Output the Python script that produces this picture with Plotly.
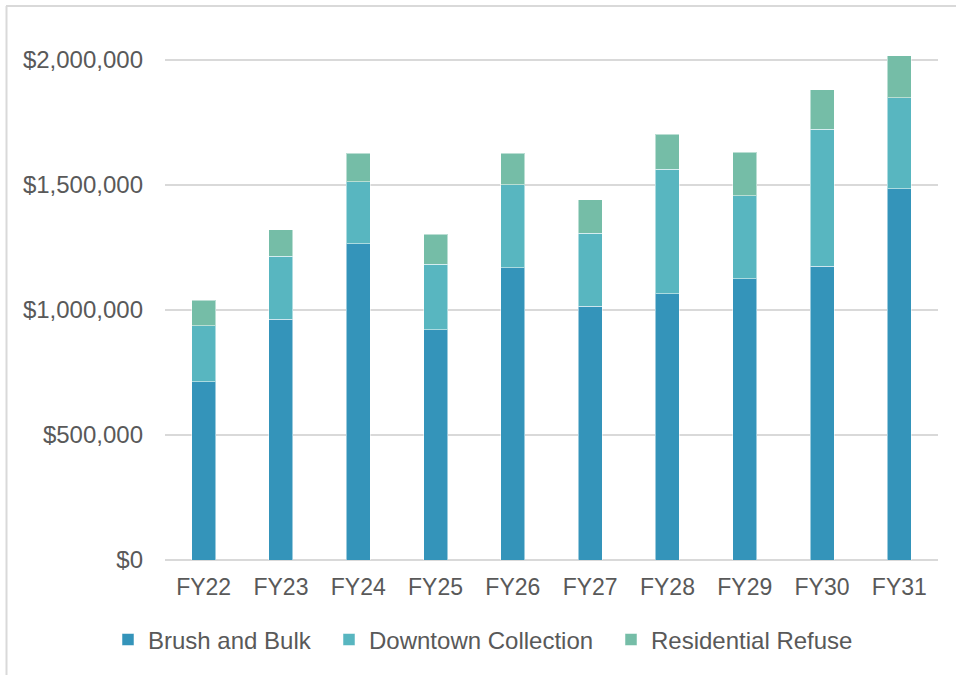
import plotly.graph_objects as go

categories = ["FY22", "FY23", "FY24", "FY25", "FY26", "FY27", "FY28", "FY29", "FY30", "FY31"]
brush_and_bulk = [712000, 963000, 1264000, 920000, 1168000, 1015000, 1064000, 1124000, 1174000, 1483000]
downtown_collection = [225000, 250000, 248000, 261000, 331000, 291000, 498000, 332000, 548000, 365000]
residential_refuse = [102000, 107000, 113000, 120000, 127000, 134000, 140000, 174000, 158000, 168000]

series = [
    ("Brush and Bulk", brush_and_bulk, "#3494BA", "legend"),
    ("Downtown Collection", downtown_collection, "#58B6C0", "legend2"),
    ("Residential Refuse", residential_refuse, "#75BDA7", "legend3"),
]

FONT = "Liberation Sans, Arial, sans-serif"
TXT = "#595959"
FS_X = 23
FS_Y = 24
FS_L = 24

fig = go.Figure()
for name, vals, color, lg in series:
    fig.add_trace(go.Bar(
        x=categories, y=vals, name=name, legend=lg,
        marker=dict(color=color, line=dict(color="rgba(255,255,255,0.5)", width=1)),
    ))

def legend_at(px_left):
    return dict(orientation="h", xref="container", x=px_left / 956, xanchor="left",
                yref="container", y=0.052, yanchor="middle",
                font=dict(size=FS_L, color=TXT), itemwidth=30,
                bgcolor="rgba(0,0,0,0)")

fig.update_layout(
    width=956, height=675,
    barmode="stack", bargap=0.69,
    plot_bgcolor="white", paper_bgcolor="white",
    margin=dict(l=165, r=18, t=47, b=115),
    font=dict(family=FONT, size=FS_X, color=TXT),
    showlegend=True,
    legend=legend_at(108),
    legend2=legend_at(329),
    legend3=legend_at(611),
    xaxis=dict(showgrid=False, showline=False, ticks="", ticklabelstandoff=11,
               tickfont=dict(size=FS_X, color=TXT)),
    yaxis=dict(range=[0, 2050000], tickvals=[0, 500000, 1000000, 1500000, 2000000],
               tickformat="$,.0f", showgrid=True, gridcolor="#D9D9D9", gridwidth=1.5,
               zeroline=True, zerolinecolor="#D9D9D9", zerolinewidth=1.5,
               showline=False, ticks="", ticklabelstandoff=21,
               tickfont=dict(size=FS_Y, color=TXT)),
    shapes=[
        dict(type="line", xref="paper", yref="paper",
             x0=(6 - 165) / 773, x1=(956 - 165) / 773,
             y0=(560 - 6) / 513, y1=(560 - 6) / 513,
             line=dict(color="#D9D9D9", width=2)),
        dict(type="line", xref="paper", yref="paper",
             x0=(6.5 - 165) / 773, x1=(6.5 - 165) / 773,
             y0=(560 - 6) / 513, y1=(560 - 675) / 513,
             line=dict(color="#D9D9D9", width=2)),
    ],
)

fig.write_html("out.html")
